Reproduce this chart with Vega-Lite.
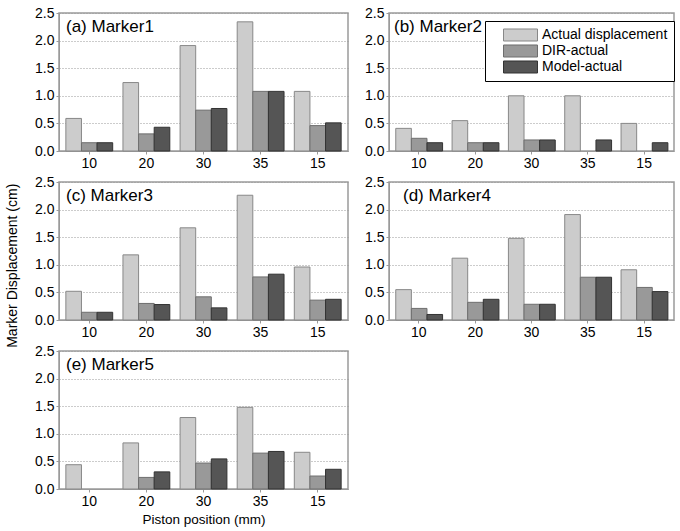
{
  "$schema": "https://vega.github.io/schema/vega-lite/v6.json",
  "padding": {"left": 5, "top": 5, "right": 5, "bottom": 5},
  "background": "white",
  "title": {"text": "Marker Displacement (cm)", "orient": "left", "anchor": "middle", "fontSize": 14, "fontWeight": "normal", "font": "Liberation Sans", "color": "#000", "offset": 14},
  "datasets": {
    "bars": [
      {"panel": "a", "pos": "10", "series": "Actual displacement", "value": 0.59},
      {"panel": "a", "pos": "10", "series": "DIR-actual", "value": 0.15},
      {"panel": "a", "pos": "10", "series": "Model-actual", "value": 0.15},
      {"panel": "a", "pos": "20", "series": "Actual displacement", "value": 1.24},
      {"panel": "a", "pos": "20", "series": "DIR-actual", "value": 0.31},
      {"panel": "a", "pos": "20", "series": "Model-actual", "value": 0.43},
      {"panel": "a", "pos": "30", "series": "Actual displacement", "value": 1.91},
      {"panel": "a", "pos": "30", "series": "DIR-actual", "value": 0.74},
      {"panel": "a", "pos": "30", "series": "Model-actual", "value": 0.77},
      {"panel": "a", "pos": "35", "series": "Actual displacement", "value": 2.34},
      {"panel": "a", "pos": "35", "series": "DIR-actual", "value": 1.08},
      {"panel": "a", "pos": "35", "series": "Model-actual", "value": 1.08},
      {"panel": "a", "pos": "15", "series": "Actual displacement", "value": 1.08},
      {"panel": "a", "pos": "15", "series": "DIR-actual", "value": 0.46},
      {"panel": "a", "pos": "15", "series": "Model-actual", "value": 0.51},
      {"panel": "b", "pos": "10", "series": "Actual displacement", "value": 0.41},
      {"panel": "b", "pos": "10", "series": "DIR-actual", "value": 0.23},
      {"panel": "b", "pos": "10", "series": "Model-actual", "value": 0.15},
      {"panel": "b", "pos": "20", "series": "Actual displacement", "value": 0.55},
      {"panel": "b", "pos": "20", "series": "DIR-actual", "value": 0.15},
      {"panel": "b", "pos": "20", "series": "Model-actual", "value": 0.15},
      {"panel": "b", "pos": "30", "series": "Actual displacement", "value": 1.0},
      {"panel": "b", "pos": "30", "series": "DIR-actual", "value": 0.2},
      {"panel": "b", "pos": "30", "series": "Model-actual", "value": 0.2},
      {"panel": "b", "pos": "35", "series": "Actual displacement", "value": 1.0},
      {"panel": "b", "pos": "35", "series": "Model-actual", "value": 0.2},
      {"panel": "b", "pos": "15", "series": "Actual displacement", "value": 0.5},
      {"panel": "b", "pos": "15", "series": "Model-actual", "value": 0.15},
      {"panel": "c", "pos": "10", "series": "Actual displacement", "value": 0.52},
      {"panel": "c", "pos": "10", "series": "DIR-actual", "value": 0.14},
      {"panel": "c", "pos": "10", "series": "Model-actual", "value": 0.14},
      {"panel": "c", "pos": "20", "series": "Actual displacement", "value": 1.18},
      {"panel": "c", "pos": "20", "series": "DIR-actual", "value": 0.30},
      {"panel": "c", "pos": "20", "series": "Model-actual", "value": 0.28},
      {"panel": "c", "pos": "30", "series": "Actual displacement", "value": 1.67},
      {"panel": "c", "pos": "30", "series": "DIR-actual", "value": 0.42},
      {"panel": "c", "pos": "30", "series": "Model-actual", "value": 0.22},
      {"panel": "c", "pos": "35", "series": "Actual displacement", "value": 2.26},
      {"panel": "c", "pos": "35", "series": "DIR-actual", "value": 0.78},
      {"panel": "c", "pos": "35", "series": "Model-actual", "value": 0.83},
      {"panel": "c", "pos": "15", "series": "Actual displacement", "value": 0.96},
      {"panel": "c", "pos": "15", "series": "DIR-actual", "value": 0.36},
      {"panel": "c", "pos": "15", "series": "Model-actual", "value": 0.375},
      {"panel": "d", "pos": "10", "series": "Actual displacement", "value": 0.55},
      {"panel": "d", "pos": "10", "series": "DIR-actual", "value": 0.21},
      {"panel": "d", "pos": "10", "series": "Model-actual", "value": 0.10},
      {"panel": "d", "pos": "20", "series": "Actual displacement", "value": 1.12},
      {"panel": "d", "pos": "20", "series": "DIR-actual", "value": 0.32},
      {"panel": "d", "pos": "20", "series": "Model-actual", "value": 0.375},
      {"panel": "d", "pos": "30", "series": "Actual displacement", "value": 1.48},
      {"panel": "d", "pos": "30", "series": "DIR-actual", "value": 0.285},
      {"panel": "d", "pos": "30", "series": "Model-actual", "value": 0.285},
      {"panel": "d", "pos": "35", "series": "Actual displacement", "value": 1.91},
      {"panel": "d", "pos": "35", "series": "DIR-actual", "value": 0.775},
      {"panel": "d", "pos": "35", "series": "Model-actual", "value": 0.775},
      {"panel": "d", "pos": "15", "series": "Actual displacement", "value": 0.91},
      {"panel": "d", "pos": "15", "series": "DIR-actual", "value": 0.59},
      {"panel": "d", "pos": "15", "series": "Model-actual", "value": 0.515},
      {"panel": "e", "pos": "10", "series": "Actual displacement", "value": 0.44},
      {"panel": "e", "pos": "20", "series": "Actual displacement", "value": 0.835},
      {"panel": "e", "pos": "20", "series": "DIR-actual", "value": 0.21},
      {"panel": "e", "pos": "20", "series": "Model-actual", "value": 0.31},
      {"panel": "e", "pos": "30", "series": "Actual displacement", "value": 1.295},
      {"panel": "e", "pos": "30", "series": "DIR-actual", "value": 0.47},
      {"panel": "e", "pos": "30", "series": "Model-actual", "value": 0.545},
      {"panel": "e", "pos": "35", "series": "Actual displacement", "value": 1.48},
      {"panel": "e", "pos": "35", "series": "DIR-actual", "value": 0.65},
      {"panel": "e", "pos": "35", "series": "Model-actual", "value": 0.68},
      {"panel": "e", "pos": "15", "series": "Actual displacement", "value": 0.665},
      {"panel": "e", "pos": "15", "series": "DIR-actual", "value": 0.235},
      {"panel": "e", "pos": "15", "series": "Model-actual", "value": 0.357}
    ]
  },
  "data": {"name": "bars"},
  "columns": 2,
  "spacing": {"row": 31, "column": 41},
  "bounds": "flush",
  "resolve": {"scale": {"fill": "independent", "stroke": "independent"}, "legend": {"fill": "independent", "stroke": "independent"}},
  "concat": [
    {
      "width": 289, "height": 138,
      "view": {"stroke": "#9a9a9a", "strokeWidth": 1.5},
      "title": {"text": "(a) Marker1", "anchor": "start", "frame": "group", "offset": -43, "dx": 7, "baseline": "alphabetic", "fontSize": 17, "fontWeight": "normal", "font": "Liberation Sans", "color": "#000"},
      "transform": [{"filter": "datum.panel === 'a'"}],
      "mark": {"type": "bar", "strokeWidth": 1},
      "encoding": {
        "x": {"field": "pos", "type": "nominal", "sort": ["10", "20", "30", "35", "15"], "scale": {"paddingInner": 0.18, "paddingOuter": 0.12}, "axis": {"title": null, "labelAngle": 0}},
        "xOffset": {"field": "series", "type": "nominal", "scale": {"domain": ["Actual displacement", "DIR-actual", "Model-actual"], "paddingInner": 0, "paddingOuter": 0}},
        "y": {"field": "value", "type": "quantitative", "scale": {"domain": [0, 2.5], "nice": false}, "axis": {"title": null, "values": [0, 0.5, 1, 1.5, 2, 2.5], "format": ".1f"}},
        "fill": {"field": "series", "type": "nominal", "scale": {"domain": ["Actual displacement", "DIR-actual", "Model-actual"], "range": ["#cccccc", "#999999", "#555555"]}, "legend": null},
        "stroke": {"field": "series", "type": "nominal", "scale": {"domain": ["Actual displacement", "DIR-actual", "Model-actual"], "range": ["#888888", "#6e6e6e", "#333333"]}, "legend": null}
      }
    },
    {
      "width": 285, "height": 138,
      "view": {"stroke": "#9a9a9a", "strokeWidth": 1.5},
      "title": {"text": "(b) Marker2", "anchor": "start", "frame": "group", "offset": -43, "dx": 5, "baseline": "alphabetic", "fontSize": 17, "fontWeight": "normal", "font": "Liberation Sans", "color": "#000"},
      "transform": [{"filter": "datum.panel === 'b'"}],
      "mark": {"type": "bar", "strokeWidth": 1},
      "encoding": {
        "x": {"field": "pos", "type": "nominal", "sort": ["10", "20", "30", "35", "15"], "scale": {"paddingInner": 0.18, "paddingOuter": 0.12}, "axis": {"title": null, "labelAngle": 0}},
        "xOffset": {"field": "series", "type": "nominal", "scale": {"domain": ["Actual displacement", "DIR-actual", "Model-actual"], "paddingInner": 0, "paddingOuter": 0}},
        "y": {"field": "value", "type": "quantitative", "scale": {"domain": [0, 2.5], "nice": false}, "axis": {"title": null, "values": [0, 0.5, 1, 1.5, 2, 2.5], "format": ".1f"}},
        "fill": {"field": "series", "type": "nominal", "scale": {"domain": ["Actual displacement", "DIR-actual", "Model-actual"], "range": ["#cccccc", "#999999", "#555555"]},
          "legend": {"orient": "none", "legendX": 96, "legendY": 8, "title": null, "symbolType": "M-1,-0.353H1V0.353H-1Z", "symbolSize": 1156, "clipHeight": 16, "rowPadding": 0, "labelFontSize": 14, "labelFont": "Liberation Sans", "labelColor": "#000", "labelOffset": 4, "labelLimit": 300, "padding": 6, "symbolOffset": 12, "strokeColor": "#000", "fillColor": "#fff", "symbolStrokeColor": "#777", "symbolStrokeWidth": 1}},
        "stroke": {"field": "series", "type": "nominal", "scale": {"domain": ["Actual displacement", "DIR-actual", "Model-actual"], "range": ["#888888", "#6e6e6e", "#333333"]}, "legend": null}
      }
    },
    {
      "width": 289, "height": 138,
      "view": {"stroke": "#9a9a9a", "strokeWidth": 1.5},
      "title": {"text": "(c) Marker3", "anchor": "start", "frame": "group", "offset": -43, "dx": 7, "baseline": "alphabetic", "fontSize": 17, "fontWeight": "normal", "font": "Liberation Sans", "color": "#000"},
      "transform": [{"filter": "datum.panel === 'c'"}],
      "mark": {"type": "bar", "strokeWidth": 1},
      "encoding": {
        "x": {"field": "pos", "type": "nominal", "sort": ["10", "20", "30", "35", "15"], "scale": {"paddingInner": 0.18, "paddingOuter": 0.12}, "axis": {"title": null, "labelAngle": 0}},
        "xOffset": {"field": "series", "type": "nominal", "scale": {"domain": ["Actual displacement", "DIR-actual", "Model-actual"], "paddingInner": 0, "paddingOuter": 0}},
        "y": {"field": "value", "type": "quantitative", "scale": {"domain": [0, 2.5], "nice": false}, "axis": {"title": null, "values": [0, 0.5, 1, 1.5, 2, 2.5], "format": ".1f"}},
        "fill": {"field": "series", "type": "nominal", "scale": {"domain": ["Actual displacement", "DIR-actual", "Model-actual"], "range": ["#cccccc", "#999999", "#555555"]}, "legend": null},
        "stroke": {"field": "series", "type": "nominal", "scale": {"domain": ["Actual displacement", "DIR-actual", "Model-actual"], "range": ["#888888", "#6e6e6e", "#333333"]}, "legend": null}
      }
    },
    {
      "width": 285, "height": 138,
      "view": {"stroke": "#9a9a9a", "strokeWidth": 1.5},
      "title": {"text": "(d) Marker4", "anchor": "start", "frame": "group", "offset": -43, "dx": 14, "baseline": "alphabetic", "fontSize": 17, "fontWeight": "normal", "font": "Liberation Sans", "color": "#000"},
      "transform": [{"filter": "datum.panel === 'd'"}],
      "mark": {"type": "bar", "strokeWidth": 1},
      "encoding": {
        "x": {"field": "pos", "type": "nominal", "sort": ["10", "20", "30", "35", "15"], "scale": {"paddingInner": 0.18, "paddingOuter": 0.12}, "axis": {"title": null, "labelAngle": 0}},
        "xOffset": {"field": "series", "type": "nominal", "scale": {"domain": ["Actual displacement", "DIR-actual", "Model-actual"], "paddingInner": 0, "paddingOuter": 0}},
        "y": {"field": "value", "type": "quantitative", "scale": {"domain": [0, 2.5], "nice": false}, "axis": {"title": null, "values": [0, 0.5, 1, 1.5, 2, 2.5], "format": ".1f"}},
        "fill": {"field": "series", "type": "nominal", "scale": {"domain": ["Actual displacement", "DIR-actual", "Model-actual"], "range": ["#cccccc", "#999999", "#555555"]}, "legend": null},
        "stroke": {"field": "series", "type": "nominal", "scale": {"domain": ["Actual displacement", "DIR-actual", "Model-actual"], "range": ["#888888", "#6e6e6e", "#333333"]}, "legend": null}
      }
    },
    {
      "width": 289, "height": 138,
      "view": {"stroke": "#9a9a9a", "strokeWidth": 1.5},
      "title": {"text": "(e) Marker5", "anchor": "start", "frame": "group", "offset": -43, "dx": 7, "baseline": "alphabetic", "fontSize": 17, "fontWeight": "normal", "font": "Liberation Sans", "color": "#000"},
      "transform": [{"filter": "datum.panel === 'e'"}],
      "mark": {"type": "bar", "strokeWidth": 1},
      "encoding": {
        "x": {"field": "pos", "type": "nominal", "sort": ["10", "20", "30", "35", "15"], "scale": {"paddingInner": 0.18, "paddingOuter": 0.12}, "axis": {"title": "Piston position (mm)", "labelAngle": 0}},
        "xOffset": {"field": "series", "type": "nominal", "scale": {"domain": ["Actual displacement", "DIR-actual", "Model-actual"], "paddingInner": 0, "paddingOuter": 0}},
        "y": {"field": "value", "type": "quantitative", "scale": {"domain": [0, 2.5], "nice": false}, "axis": {"title": null, "values": [0, 0.5, 1, 1.5, 2, 2.5], "format": ".1f"}},
        "fill": {"field": "series", "type": "nominal", "scale": {"domain": ["Actual displacement", "DIR-actual", "Model-actual"], "range": ["#cccccc", "#999999", "#555555"]}, "legend": null},
        "stroke": {"field": "series", "type": "nominal", "scale": {"domain": ["Actual displacement", "DIR-actual", "Model-actual"], "range": ["#888888", "#6e6e6e", "#333333"]}, "legend": null}
      }
    }
  ],
  "config": {
    "font": "Liberation Sans",
    "view": {"stroke": "#9a9a9a", "strokeWidth": 1.5},
    "axis": {"labelFont": "Liberation Sans", "labelFontSize": 14, "labelColor": "#000", "domainColor": "#9a9a9a", "tickColor": "#9a9a9a", "tickSize": 3, "labelPadding": 2, "titleFont": "Liberation Sans", "titleFontSize": 13.5, "titleFontWeight": "normal", "titleColor": "#000", "titlePadding": 4},
    "axisY": {"grid": true, "gridColor": "#999999", "gridDash": [1, 2], "gridWidth": 1},
    "axisX": {"grid": false}
  }
}
